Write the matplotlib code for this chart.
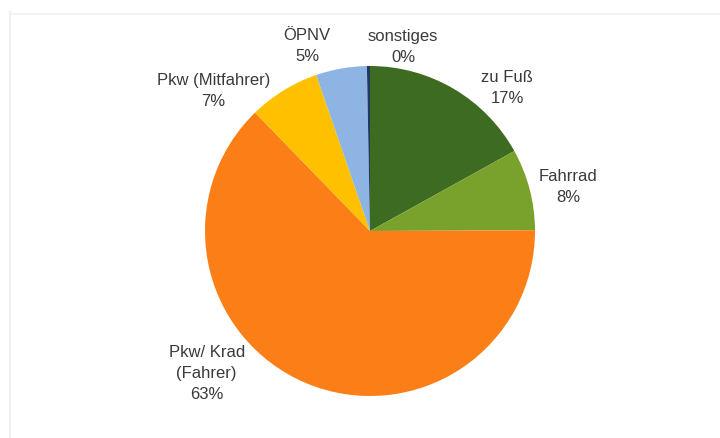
import matplotlib.pyplot as plt
from matplotlib.lines import Line2D

# shares of trips by mode (percent)
modes = ["zu Fuß", "Fahrrad", "Pkw/ Krad\n(Fahrer)", "Pkw (Mitfahrer)", "ÖPNV", "sonstiges"]
shares = [17, 8, 63, 7, 5, 0.3]
colors = ["#3d6b22", "#78a22b", "#fb7f16", "#ffc000", "#8eb4e3", "#1f3864"]

# label placement (data units, pie radius = 1)
label_pos = [(0.83, 0.87), (1.2, 0.27), (-0.99, -0.855), (-0.95, 0.855), (-0.38, 1.13), (0.2, 1.12)]

plt.rcParams["font.family"] = ["Liberation Sans", "DejaVu Sans"]

fig = plt.figure(figsize=(7.2, 4.39), dpi=100, facecolor="white")
ax = fig.add_axes([205 / 720, 42 / 439, 330 / 720, 330 / 439])

wedges, _ = ax.pie(shares, colors=colors, startangle=90, counterclock=False,
                   wedgeprops=dict(linewidth=0))
ax.set_xlim(-1, 1)
ax.set_ylim(-1, 1)
ax.set_aspect("equal")
ax.axis("off")

total = sum(shares)
for name, val, (x, y) in zip(modes, shares, label_pos):
    ax.text(x, y, f"{name}\n{round(100 * val / total)}%", ha="center", va="center",
            fontsize=12, color="#3a3a3a", linespacing=1.5)

# faint frame lines of the original screenshot
fig.add_artist(Line2D([10 / 720, 10 / 720], [0, 1 - 13 / 439], color="#f0f0f0", lw=1.5))
fig.add_artist(Line2D([10 / 720, 1], [1 - 15 / 439, 1 - 15 / 439], color="#f4f4f4", lw=1.5))

fig.savefig("out.png", dpi=100, facecolor=fig.get_facecolor())
